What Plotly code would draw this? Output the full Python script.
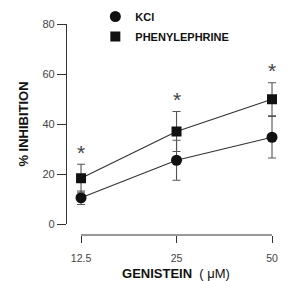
import plotly.graph_objects as go

doses = ["12.5", "25", "50"]
kcl = [10.5, 25.5, 34.7]
kcl_err = [2.7, 8.0, 8.3]
pe = [18.3, 37.0, 49.9]
pe_err = [5.6, 8.0, 6.6]
y_ticks = [0, 20, 40, 60, 80]

font_family = "Liberation Sans, Arial, sans-serif"

fig = go.Figure()
series = [
    ("<b>KCl</b>", kcl, kcl_err, "circle", 11, "a"),
    ("<b>PHENYLEPHRINE</b>", pe, pe_err, "square", 10, "b"),
]
for name, vals, errs, sym, size, grp in series:
    fig.add_trace(go.Scatter(
        x=doses, y=vals, name=name, mode="lines+markers", showlegend=False,
        line=dict(color="#333", width=1.2),
        marker=dict(symbol=sym, size=size, color="#111"),
        error_y=dict(type="data", array=errs, color="#555", thickness=1.1, width=4),
    ))
for name, vals, errs, sym, size, grp in series:
    fig.add_trace(go.Scatter(
        x=[None], y=[None], name=name, mode="markers", legendgroup=grp,
        marker=dict(symbol=sym, size=size, color="#111"),
    ))

# significance asterisks above phenylephrine upper error bars
for i, (v, e) in enumerate(zip(pe, pe_err)):
    fig.add_annotation(x=i, y=v + e, xref="x", yref="y", text="*", showarrow=False,
                       yanchor="middle", yshift=12,
                       font=dict(size=21, color="#444", family=font_family))

# bracket-style x axis line
fig.add_shape(type="line", xref="x", yref="paper", x0=0, x1=2, y0=0, y1=0,
              line=dict(color="#333", width=1.2))

H = 233.0
d0 = 11 / H
d1 = 211 / H
fig.update_layout(
    width=296, height=281,
    margin=dict(l=67, r=11, t=2, b=46, autoexpand=False),
    paper_bgcolor="white", plot_bgcolor="white",
    font=dict(family=font_family, color="#444", size=11),
    showlegend=True,
    legend=dict(x=0.13, y=1.0, xanchor="left", yanchor="top",
                font=dict(size=11, color="#111", family=font_family),
                bgcolor="rgba(0,0,0,0)", traceorder="grouped", tracegroupgap=1,
                itemwidth=30),
    xaxis=dict(type="category", categoryorder="array", categoryarray=doses,
               range=[-0.147, 2.136], showline=False, showgrid=False, zeroline=False,
               ticks="outside", ticklen=7, tickcolor="#333", tickwidth=1.2,
               anchor="free", position=0, ticklabelstandoff=6, automargin=False,
               tickfont=dict(size=10.5, color="#444"),
               title=dict(text="<b>GENISTEIN</b>  ( μM)", font=dict(size=13, color="#111"),
                          standoff=11)),
    yaxis=dict(range=[0, 80], domain=[d0, d1], tickvals=y_ticks,
               showline=True, linecolor="#333", linewidth=1.2,
               showgrid=False, zeroline=False, automargin=False,
               ticks="outside", ticklen=9, tickcolor="#333", tickwidth=1.2,
               tickfont=dict(size=11, color="#444"),
               title=dict(text="<b>% INHIBITION</b>", font=dict(size=13, color="#111"),
                          standoff=10)),
)

fig.write_html("out.html")
